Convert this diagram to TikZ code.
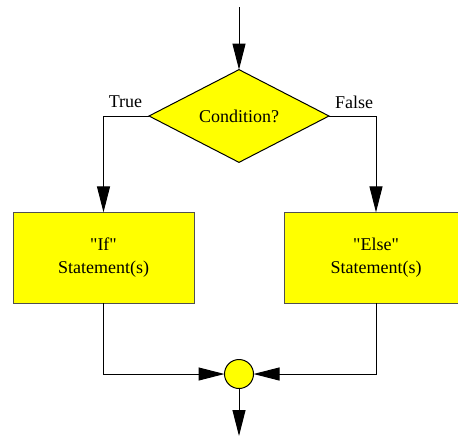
\documentclass[tikz,border=0pt]{standalone}
\usepackage{fontspec}
\setmainfont{Liberation Serif}
\usetikzlibrary{arrows.meta,positioning,shapes.geometric}
\definecolor{yellow}{RGB}{255, 255, 0}
\definecolor{gray}{RGB}{80, 80, 80}

\tikzset{
    flow/.style={
        draw=black,
        line width=1pt,
        -{Triangle[length=26pt,width=13pt]}
    },
    stmtbox/.style={
        rectangle,
        draw=gray,
        line width=1pt,
        fill=yellow,
        align=center,
        minimum height=91pt,
        inner sep=0pt,
        outer sep=0pt
    }
}

\begin{document}
\begin{tikzpicture}[x=1pt, y=-1pt, font=\fontsize{18}{23}\selectfont]

        \useasboundingbox (0,0) rectangle (458,437);

        \coordinate (in) at (239,7);
        \coordinate (out) at (239,436);

        \node (cond) [
            diamond,
            draw=black,
            line width=1pt,
            fill=yellow,
            minimum width=180pt,
            minimum height=90pt,
            inner sep=0pt,
            outer sep=0pt
        ] at (239,116)
        {Condition?};

        \node (if) [
            stmtbox,
            minimum width=181pt,
            below=50pt of cond,
            xshift=-135.5pt
        ]
        {\textquotedbl If\textquotedbl\\Statement(s)};

        \node (else) [
            stmtbox,
            minimum width=184pt,
            below=50pt of cond,
            xshift=137pt
        ]
        {\textquotedbl Else\textquotedbl\\Statement(s)};

        \node (join) [
            circle,
            draw=black,
            line width=1pt,
            fill=yellow,
            minimum size=29pt,
            inner sep=0pt,
            outer sep=0pt
        ] at (239,374)
        {};

        \node (true) at (125.5,102) {True};
        \node (false) at (354,102) {False};

        \draw[flow] (in) to (cond.north);
        \draw[flow] (cond.west) -| (if.north);
        \draw[flow] (cond.east) -| (else.north);
        \draw[flow] (if.south) |- (join.west);
        \draw[flow] (else.south) |- (join.east);
        \draw[flow] (join.south) to (out);
    \end{tikzpicture}
\end{document}
